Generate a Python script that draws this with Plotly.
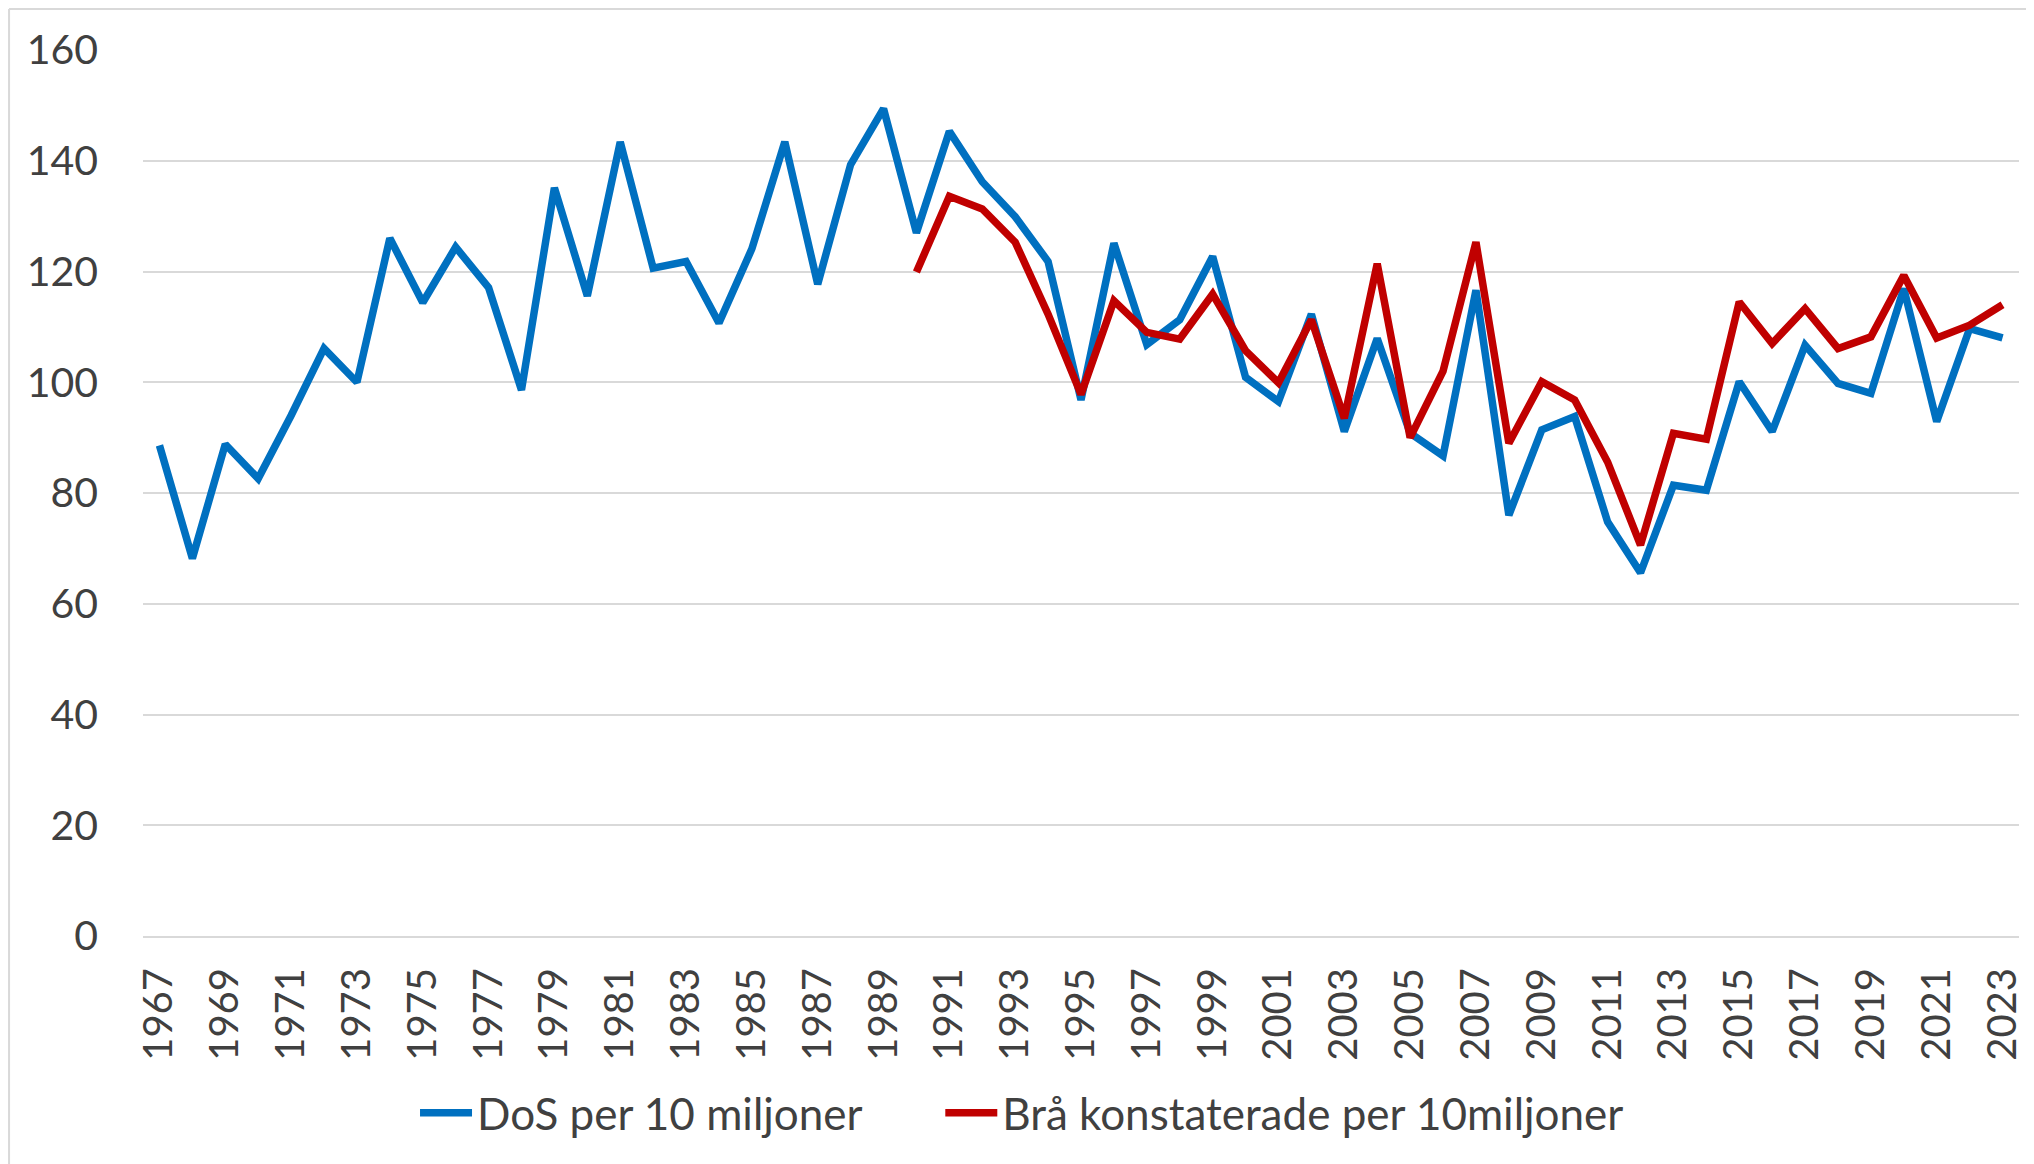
import plotly.graph_objects as go

years = list(range(1967, 2024))

# DoS per 10 miljoner, 1967-2023
dos = [88.6, 68.2, 88.8, 82.6, 94.0, 106.1, 100.0, 126.0, 114.4, 124.4,
       117.1, 98.6, 135.1, 115.6, 143.4, 120.6, 121.8, 110.7, 124.1, 143.4,
       117.7, 139.3, 149.4, 127.0, 145.3, 136.2, 129.9, 121.8, 96.8, 125.1,
       106.8, 111.3, 122.7, 100.9, 96.5, 112.3, 91.1, 107.9, 90.8, 86.7,
       116.6, 76.0, 91.4, 93.8, 74.8, 65.6, 81.4, 80.5, 100.1, 91.1,
       106.7, 99.8, 98.0, 116.9, 92.9, 109.7, 108.0]

# Brå konstaterade per 10 miljoner, 1990-2023
bra_years = list(range(1990, 2024))
bra = [119.9, 133.6, 131.3, 125.3, 112.3, 97.8, 114.7, 109.0, 107.8, 115.9,
       105.7, 99.9, 111.3, 93.5, 121.4, 90.0, 102.0, 125.3, 89.0, 100.1,
       96.8, 85.6, 70.6, 90.8, 89.7, 114.5, 107.0, 113.3, 106.1, 108.2,
       119.3, 108.0, 110.3, 114.0]

tick_years = years[::2]
font = "Lato"
txt = "#404040"

fig = go.Figure()
fig.add_trace(go.Scatter(x=years, y=dos, mode="lines", name="DoS per 10 miljoner",
                         line=dict(color="#0070C0", width=7.5), legend="legend"))
fig.add_trace(go.Scatter(x=bra_years, y=bra, mode="lines",
                         name="Brå konstaterade per 10miljoner",
                         line=dict(color="#C00000", width=7.5), legend="legend2"))

leg = dict(orientation="h", xanchor="left", y=-0.2, yanchor="middle",
           font=dict(size=44, color=txt), itemwidth=52)

# page body adds 8px, margins compensate
fig.update_layout(
    width=2034, height=1164,
    margin=dict(l=135, r=23, t=42, b=236),
    plot_bgcolor="white", paper_bgcolor="white",
    font=dict(family=font, size=40, color=txt),
    showlegend=True,
    legend=dict(leg, x=0.145),
    legend2=dict(leg, x=0.425),
    shapes=[dict(type="line", xref="paper", yref="paper",
                 x0=-0.0714, x1=1.05, y0=1.0463, y1=1.0463,
                 line=dict(color="#d9d9d9", width=2)),
            dict(type="line", xref="paper", yref="paper",
                 x0=-0.0714, x1=-0.0714, y0=1.0463, y1=-0.3,
                 line=dict(color="#d9d9d9", width=2))],
)
fig.update_xaxes(range=[1966.5, 2023.5], tickvals=tick_years,
                 ticktext=[str(y) for y in tick_years], tickangle=-90,
                 showgrid=False, zeroline=False, showline=True,
                 linecolor="#d9d9d9", linewidth=2, ticks="", ticklabelstandoff=14,
                 tickfont=dict(size=40, color=txt))
fig.update_yaxes(range=[0, 160], dtick=20, showgrid=True, gridcolor="#d9d9d9",
                 gridwidth=2, zeroline=False, ticks="", ticklabelstandoff=44,
                 tickfont=dict(size=41, color=txt))

fig.write_html("out.html")
